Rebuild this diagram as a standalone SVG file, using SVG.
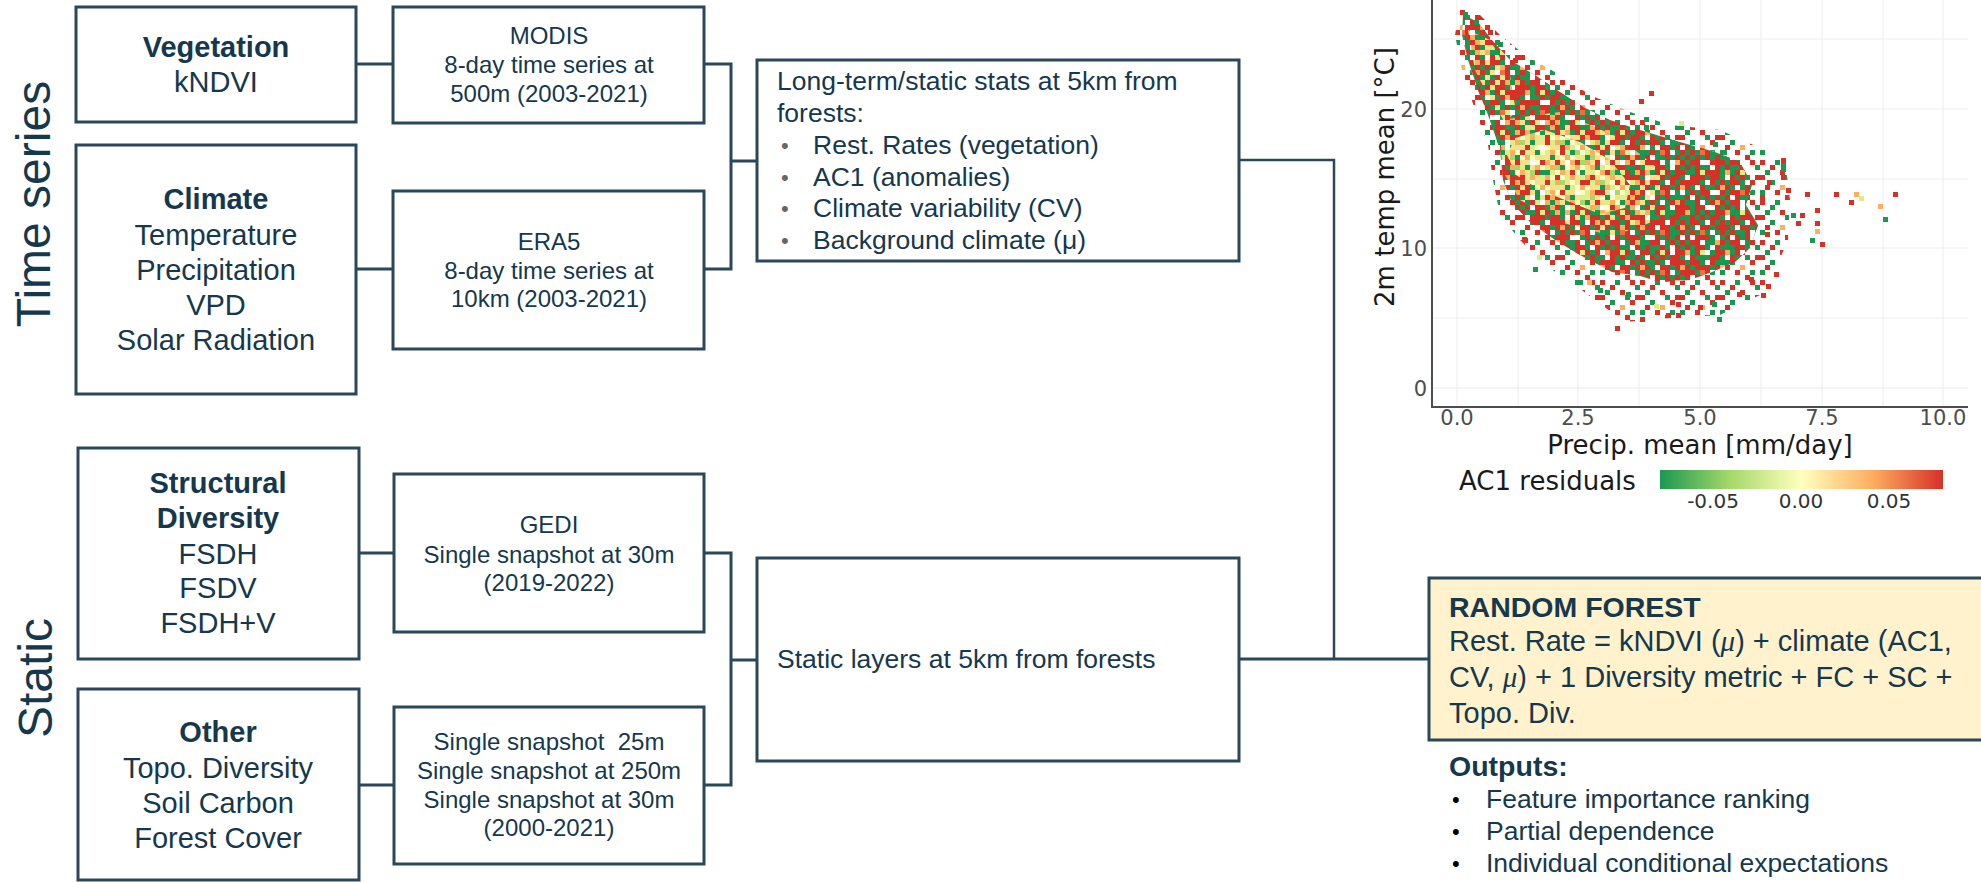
<svg xmlns="http://www.w3.org/2000/svg" width="1981" height="882" viewBox="0 0 1981 882">
<defs>
<style>
.box{fill:#fff;stroke:#2b4858;stroke-width:3}
.rf{fill:#fff2cc;stroke:#2b4858;stroke-width:3}
.t{font-family:"Liberation Sans",Arial,sans-serif;fill:#15384d}
.c29{font-size:29px;text-anchor:middle}
.c24{font-size:24px;text-anchor:middle}
.b{font-weight:bold}
.l26{font-size:26.5px}
.side{font-size:48px;text-anchor:middle}
.conn{fill:none;stroke:#2b4858;stroke-width:3}
.p{font-family:"DejaVu Sans",sans-serif}
.tick{font-size:21px;fill:#4d4d4d}
.ttl{font-size:26px;fill:#1a1a1a}
.grid{stroke:#ededed;stroke-width:1;fill:none}
.gb{fill:#666}
</style>
<linearGradient id="cb" x1="0" y1="0" x2="1" y2="0">
<stop offset="0" stop-color="#1a9850"/>
<stop offset="0.25" stop-color="#a6d96a"/>
<stop offset="0.5" stop-color="#ffffbf"/>
<stop offset="0.75" stop-color="#fdae61"/>
<stop offset="1" stop-color="#d73027"/>
</linearGradient>
<pattern id="pD" width="40" height="40" patternUnits="userSpaceOnUse">
<rect width="40" height="40" fill="#d73027"/>
<path fill="#1a9850" d="M5 0h5v5h-5z M25 0h5v5h-5z M0 5h5v5h-5z M10 5h5v5h-5z M25 5h5v5h-5z M10 10h5v5h-5z M30 10h5v5h-5z M0 15h5v5h-5z M15 15h5v5h-5z M25 15h5v5h-5z M5 20h5v5h-5z M20 20h5v5h-5z M35 20h5v5h-5z M10 25h5v5h-5z M30 25h5v5h-5z M5 30h5v5h-5z M15 30h5v5h-5z M35 30h5v5h-5z M0 35h5v5h-5z M20 35h5v5h-5z M30 35h5v5h-5z"/>
<path fill="#fdae61" d="M35 0h5v5h-5z M5 10h5v5h-5z M0 25h5v5h-5z"/>
<path fill="#f46d43" d="M20 30h5v5h-5z"/>
<path fill="#d9ef8b" d="M20 10h5v5h-5z"/>
<path fill="#fff" d="M20 0h5v5h-5z M30 5h5v5h-5z M5 15h5v5h-5z M25 20h5v5h-5z M15 25h5v5h-5z M30 30h5v5h-5z M10 35h5v5h-5z"/>
</pattern>
<pattern id="pS" width="40" height="40" patternUnits="userSpaceOnUse">
<path fill="#d73027" d="M0 0h5v5h-5z M30 0h5v5h-5z M10 5h5v5h-5z M20 10h5v5h-5z M0 15h5v5h-5z M35 15h5v5h-5z M30 20h5v5h-5z M5 25h5v5h-5z M15 30h5v5h-5z M25 35h5v5h-5z"/>
<path fill="#1a9850" d="M15 0h5v5h-5z M35 5h5v5h-5z M5 10h5v5h-5z M25 15h5v5h-5z M10 20h5v5h-5z M0 30h5v5h-5z M30 30h5v5h-5z"/>
<path fill="#fdae61" d="M20 25h5v5h-5z"/>
</pattern>
<pattern id="pC" width="40" height="40" patternUnits="userSpaceOnUse">
<rect width="40" height="40" fill="#fee08b"/>
<path fill="#ffffbf" d="M15 0h5v5h-5z M5 5h5v5h-5z M20 5h5v5h-5z M15 10h5v5h-5z M35 10h5v5h-5z M0 15h5v5h-5z M30 15h5v5h-5z M10 20h5v5h-5z M15 25h5v5h-5z M25 25h5v5h-5z M20 30h5v5h-5z M35 30h5v5h-5z M0 35h5v5h-5z M10 35h5v5h-5z"/>
<path fill="#d9ef8b" d="M5 0h5v5h-5z M0 5h5v5h-5z M25 5h5v5h-5z M30 10h5v5h-5z M5 15h5v5h-5z M20 15h5v5h-5z M15 20h5v5h-5z M30 20h5v5h-5z M10 25h5v5h-5z M35 25h5v5h-5z M5 30h5v5h-5z M25 30h5v5h-5z M20 35h5v5h-5z"/>
<path fill="#a6d96a" d="M20 0h5v5h-5z M35 5h5v5h-5z M10 10h5v5h-5z M0 20h5v5h-5z M15 30h5v5h-5z M30 35h5v5h-5z"/>
<path fill="#fdae61" d="M10 0h5v5h-5z M25 0h5v5h-5z M15 5h5v5h-5z M30 5h5v5h-5z M0 10h5v5h-5z M10 15h5v5h-5z M25 15h5v5h-5z M35 20h5v5h-5z M5 25h5v5h-5z M20 25h5v5h-5z M30 30h5v5h-5z M5 35h5v5h-5z"/>
<path fill="#d73027" d="M35 0h5v5h-5z M25 20h5v5h-5z M0 30h5v5h-5z"/>
<path fill="#1a9850" d="M20 10h5v5h-5z"/>
</pattern>
<pattern id="pM" width="40" height="40" patternUnits="userSpaceOnUse">
<path fill="#fee08b" d="M0 0h5v5h-5z M5 5h5v5h-5z M0 10h5v5h-5z M10 15h5v5h-5z M5 20h5v5h-5z M0 25h5v5h-5z M10 30h5v5h-5z M5 35h5v5h-5z"/>
<path fill="#d9ef8b" d="M15 0h5v5h-5z M10 5h5v5h-5z M20 10h5v5h-5z M15 15h5v5h-5z M30 20h5v5h-5z M15 25h5v5h-5z M25 30h5v5h-5z M20 35h5v5h-5z"/>
<path fill="#fdae61" d="M25 0h5v5h-5z M30 5h5v5h-5z M35 10h5v5h-5z M25 15h5v5h-5z M35 20h5v5h-5z M20 25h5v5h-5z M35 30h5v5h-5z M30 35h5v5h-5z"/>
</pattern>
<pattern id="pX" width="35" height="45" patternUnits="userSpaceOnUse">
<path fill="#d73027" d="M5 0h5v5h-5z M20 10h5v5h-5z M0 25h5v5h-5z M30 35h5v5h-5z M15 40h5v5h-5z"/>
<path fill="#1a9850" d="M25 5h5v5h-5z M10 20h5v5h-5z M30 15h5v5h-5z M5 35h5v5h-5z M20 30h5v5h-5z"/>
<path fill="#fff" d="M0 10h5v5h-5z M25 25h5v5h-5z"/>
</pattern>
</defs>
<rect width="1981" height="882" fill="#fff"/>

<g id="side-labels" class="t">
<text class="side" transform="translate(50,204) rotate(-90)">Time series</text>
<text class="side" transform="translate(52,678) rotate(-90)">Static</text>
</g>

<g id="connectors">
<path class="conn" d="M356 64H393 M356 269H393 M704 64H731V269H704 M731 161H757"/>
<path class="conn" d="M359 553H394 M359 785H394 M704 553H731V785H704 M731 660H757"/>
<path class="conn" style="stroke-width:2.5" d="M1239 160H1334V659"/>
<path class="conn" d="M1239 659H1429"/>
</g>

<g id="n-vegetation">
<rect class="box" x="76" y="7" width="280" height="115"/>
<text class="t c29 b" x="216" y="57">Vegetation</text>
<text class="t c29" x="216" y="92">kNDVI</text>
</g>
<g id="n-climate">
<rect class="box" x="76" y="145" width="280" height="249"/>
<text class="t c29 b" x="216" y="209">Climate</text>
<text class="t c29" x="216" y="245">Temperature</text>
<text class="t c29" x="216" y="280">Precipitation</text>
<text class="t c29" x="216" y="315">VPD</text>
<text class="t c29" x="216" y="350">Solar Radiation</text>
</g>
<g id="n-modis">
<rect class="box" x="393" y="7" width="311" height="116"/>
<text class="t c24" x="549" y="44">MODIS</text>
<text class="t c24" x="549" y="73">8-day time series at</text>
<text class="t c24" x="549" y="102">500m (2003-2021)</text>
</g>
<g id="n-era5">
<rect class="box" x="393" y="191" width="311" height="158"/>
<text class="t c24" x="549" y="250">ERA5</text>
<text class="t c24" x="549" y="279">8-day time series at</text>
<text class="t c24" x="549" y="307">10km (2003-2021)</text>
</g>
<g id="n-longterm">
<rect class="box" x="757" y="60" width="482" height="201"/>
<text class="t l26" x="777" y="90">Long-term/static stats at 5km from</text>
<text class="t l26" x="777" y="122">forests:</text>
<text class="gb" style="font-family:'Liberation Sans',sans-serif;font-size:22px">
<tspan x="781" y="153">•</tspan><tspan x="781" y="185">•</tspan><tspan x="781" y="216">•</tspan><tspan x="781" y="248">•</tspan>
</text>
<text class="t l26" x="813" y="154">Rest. Rates (vegetation)</text>
<text class="t l26" x="813" y="186">AC1 (anomalies)</text>
<text class="t l26" x="813" y="217">Climate variability (CV)</text>
<text class="t l26" x="813" y="249">Background climate (μ)</text>
</g>
<g id="n-structural">
<rect class="box" x="78" y="448" width="281" height="211"/>
<text class="t c29 b" x="218" y="493">Structural</text>
<text class="t c29 b" x="218" y="528">Diversity</text>
<text class="t c29" x="218" y="564">FSDH</text>
<text class="t c29" x="218" y="598">FSDV</text>
<text class="t c29" x="218" y="633">FSDH+V</text>
</g>
<g id="n-other">
<rect class="box" x="78" y="689" width="281" height="191"/>
<text class="t c29 b" x="218" y="742">Other</text>
<text class="t c29" x="218" y="778">Topo. Diversity</text>
<text class="t c29" x="218" y="813">Soil Carbon</text>
<text class="t c29" x="218" y="848">Forest Cover</text>
</g>
<g id="n-gedi">
<rect class="box" x="394" y="474" width="310" height="158"/>
<text class="t c24" x="549" y="533">GEDI</text>
<text class="t c24" x="549" y="563">Single snapshot at 30m</text>
<text class="t c24" x="549" y="591">(2019-2022)</text>
</g>
<g id="n-snapshot">
<rect class="box" x="394" y="707" width="310" height="157"/>
<text class="t c24" x="549" y="750">Single snapshot&#160; 25m</text>
<text class="t c24" x="549" y="779">Single snapshot at 250m</text>
<text class="t c24" x="549" y="808">Single snapshot at 30m</text>
<text class="t c24" x="549" y="836">(2000-2021)</text>
</g>
<g id="n-static">
<rect class="box" x="757" y="558" width="482" height="203"/>
<text class="t l26" x="777" y="668">Static layers at 5km from forests</text>
</g>
<g id="n-randomforest">
<rect class="rf" x="1429" y="578" width="560" height="162"/>
<text class="t b" style="font-size:28.5px" x="1449" y="617">RANDOM FOREST</text>
<text class="t" style="font-size:29px" x="1449" y="651">Rest. Rate = kNDVI (<tspan style="font-family:'Liberation Serif',serif;font-style:italic">μ</tspan>) + climate (AC1,</text>
<text class="t" style="font-size:29px" x="1449" y="687">CV, <tspan style="font-family:'Liberation Serif',serif;font-style:italic">μ</tspan>) + 1 Diversity metric + FC + SC +</text>
<text class="t" style="font-size:29px" x="1449" y="723">Topo. Div.</text>
</g>
<g id="n-outputs">
<text class="t b" style="font-size:28.5px" x="1449" y="776">Outputs:</text>
<text style="font-family:'Liberation Sans',sans-serif;font-size:22px;fill:#000"><tspan x="1452" y="807">•</tspan><tspan x="1452" y="839">•</tspan><tspan x="1452" y="871">•</tspan></text>
<text class="t l26" x="1486" y="808">Feature importance ranking</text>
<text class="t l26" x="1486" y="840">Partial dependence</text>
<text class="t l26" x="1486" y="872">Individual conditional expectations</text>
</g>

<g id="plot">
<path class="grid" d="M1457 0V407 M1518 0V407 M1578 0V407 M1639 0V407 M1700 0V407 M1761 0V407 M1822 0V407 M1883 0V407 M1943 0V407 M1432 39H1968 M1432 109H1968 M1432 179H1968 M1432 248H1968 M1432 318H1968 M1432 388H1968"/>
<polygon fill="url(#pS)" points="1460,8 1480,15 1500,35 1525,55 1560,75 1590,95 1630,112 1670,125 1720,130 1760,148 1785,160 1790,200 1788,240 1775,270 1760,295 1720,315 1670,318 1625,322 1595,300 1575,285 1545,265 1520,240 1500,215 1493,180 1488,145 1475,110 1462,70 1455,35"/>
<polygon fill="url(#pD)" points="1463,15 1478,22 1492,40 1510,60 1535,75 1560,92 1585,108 1610,120 1640,130 1680,142 1715,152 1740,162 1752,185 1746,205 1758,225 1750,248 1735,262 1712,272 1690,280 1660,282 1640,276 1612,272 1580,255 1555,240 1530,222 1512,203 1503,180 1500,150 1490,120 1478,90 1468,60 1462,35"/>
<polygon fill="url(#pM)" points="1500,120 1560,112 1620,138 1662,172 1652,222 1612,236 1560,222 1520,200 1502,170"/>
<polygon fill="url(#pM)" points="1468,30 1490,40 1510,75 1516,112 1505,122 1490,100 1475,70"/>
<polygon fill="url(#pC)" points="1515,138 1545,130 1580,142 1610,160 1630,185 1625,208 1600,214 1570,202 1540,190 1516,175 1507,155"/>
<polygon fill="url(#pX)" points="1463,15 1478,22 1492,40 1510,60 1535,75 1560,92 1585,108 1610,120 1640,130 1680,142 1715,152 1740,162 1752,185 1746,205 1758,225 1750,248 1735,262 1712,272 1690,280 1660,282 1640,276 1612,272 1580,255 1555,240 1530,222 1512,203 1503,180 1500,150 1490,120 1478,90 1468,60 1462,35"/>
<g id="outliers">
<path fill="#d73027" d="M1488 30h5v5h-5z M1513 58h5v5h-5z M1649 91h5v5h-5z M1639 99h5v5h-5z M1781 158h5v5h-5z M1781 175h5v5h-5z M1767 180h5v5h-5z M1786 188h5v5h-5z M1805 192h5v5h-5z M1834 192h5v5h-5z M1849 200h5v5h-5z M1893 192h5v5h-5z M1815 208h5v5h-5z M1815 221h5v5h-5z M1820 242h5v5h-5z M1796 221h5v5h-5z M1800 213h5v5h-5z M1523 238h5v5h-5z M1615 326h5v5h-5z M1640 317h5v5h-5z M1666 313h5v5h-5z M1676 313h5v5h-5z M1676 302h5v5h-5z M1698 305h5v5h-5z M1761 293h5v5h-5z M1766 284h5v5h-5z M1737 292h5v5h-5z M1749 277h5v5h-5z M1774 272h5v5h-5z M1522 237h5v5h-5z M1760 195h5v5h-5z M1765 232h5v5h-5z"/>
<path fill="#1a9850" d="M1463 12h5v5h-5z M1474 20h5v5h-5z M1498 42h5v5h-5z M1644 117h5v5h-5z M1644 125h5v5h-5z M1679 125h5v5h-5z M1713 142h5v5h-5z M1722 150h5v5h-5z M1781 163h5v5h-5z M1781 167h5v5h-5z M1883 217h5v5h-5z M1810 238h5v5h-5z M1791 213h5v5h-5z M1533 267h5v5h-5z M1717 317h5v5h-5z M1712 302h5v5h-5z M1578 280h5v5h-5z M1598 288h5v5h-5z M1626 292h5v5h-5z M1770 205h5v5h-5z"/>
<path fill="#fdae61" d="M1854 192h5v5h-5z M1878 204h5v5h-5z M1815 229h5v5h-5z M1587 280h5v5h-5z"/>
<path fill="#d9ef8b" d="M1679 121h5v5h-5z M1859 196h5v5h-5z M1537 255h5v5h-5z M1654 304h5v5h-5z"/>
</g>
<path d="M1432 0V407H1968" fill="none" stroke="#4d4d4d" stroke-width="2"/>
<g class="p tick" text-anchor="end">
<text x="1427" y="117">20</text>
<text x="1427" y="256">10</text>
<text x="1427" y="396">0</text>
</g>
<g class="p tick" text-anchor="middle">
<text x="1457" y="425">0.0</text>
<text x="1578" y="425">2.5</text>
<text x="1700" y="425">5.0</text>
<text x="1822" y="425">7.5</text>
<text x="1943" y="425">10.0</text>
</g>
<text class="p ttl" x="1700" y="454" text-anchor="middle">Precip. mean [mm/day]</text>
<text class="p ttl" transform="translate(1394,177) rotate(-90)" text-anchor="middle">2m temp mean [°C]</text>
<text class="p ttl" x="1459" y="490">AC1 residuals</text>
<rect x="1660" y="470" width="283" height="19" fill="url(#cb)"/>
<g class="p" style="font-size:20px;fill:#333" text-anchor="middle">
<text x="1713" y="508">-0.05</text>
<text x="1801" y="508">0.00</text>
<text x="1889" y="508">0.05</text>
</g>
</g>
</svg>
